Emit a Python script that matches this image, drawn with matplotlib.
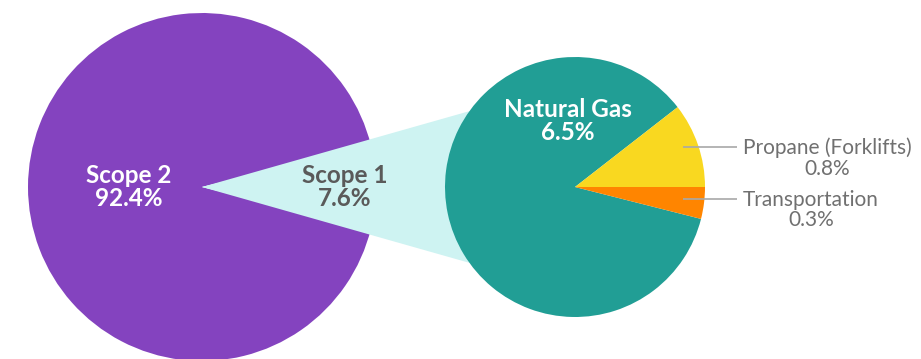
import numpy as np
import matplotlib
matplotlib.use("Agg")
import matplotlib.pyplot as plt
from matplotlib.patches import Polygon

# ---- data ----
main_labels = ["Scope 2", "Scope 1"]
main_values = [92.4, 7.6]
sub_labels = ["Natural Gas", "Propane (Forklifts)", "Transportation"]
sub_values = [6.5, 0.8, 0.3]

# ---- style ----
purple = "#8443BF"
cyan = "#CEF3F2"
teal = "#219E95"
yellow = "#F9D820"
orange = "#FF8500"
dark_text = "#5A5A5A"
gray_text = "#707070"
line_gray = "#A8A8A8"
FONT = ["Lato", "DejaVu Sans"]

W, H = 921, 359
fig = plt.figure(figsize=(W / 100, H / 100), dpi=100)
ax = fig.add_axes([0, 0, 1, 1])

# layout (pixel-like data coordinates)
c1, r1 = (202.0, 172.0), 174.0
c2, r2 = (575.0, 172.0), 130.0

# main pie: Scope 1 wedge centred on the right (0 deg)
start_main = 360 * main_values[1] / sum(main_values) / 2
ax.pie(main_values, colors=[purple, cyan], startangle=start_main,
       center=c1, radius=r1, counterclock=True,
       wedgeprops=dict(linewidth=0), frame=True)

# connector band from main pie centre to the sub pie
conn_ang = np.deg2rad(35.7)
p_top = (c2[0] - r2 * np.cos(conn_ang), c2[1] + r2 * np.sin(conn_ang))
p_bot = (c2[0] - r2 * np.cos(conn_ang), c2[1] - r2 * np.sin(conn_ang))
ax.add_patch(Polygon([c1, p_top, c2, p_bot], closed=True,
                     facecolor=cyan, edgecolor="none", zorder=2))

# sub pie
sub_total = sum(sub_values)
start_sub = -360 * sub_values[2] / sub_total
wedges, _ = ax.pie(sub_values, colors=[teal, yellow, orange],
                   startangle=start_sub, counterclock=False,
                   center=c2, radius=r2,
                   wedgeprops=dict(linewidth=0), frame=True)
for w in wedges:
    w.set_zorder(3)

# ---- labels ----
def pct(v):
    return f"{v:.1f}%"

BOLD = dict(ha="center", va="center", fontsize=17.5, fontweight="bold",
            family=FONT, linespacing=1.0, zorder=5)
ax.text(c1[0] - 0.42 * r1, c1[1], f"{main_labels[0]}\n{pct(main_values[0])}",
        color="white", **BOLD)
ax.text(c1[0] + 0.82 * r1, c1[1], f"{main_labels[1]}\n{pct(main_values[1])}",
        color=dark_text, **BOLD)
ax.text(c2[0] - 7, c2[1] + 0.51 * r2, f"{sub_labels[0]}\n{pct(sub_values[0])}",
        color="white", **BOLD)

# outside labels with leader lines
label_y = [H - 158, H - 210]
for lab, val, y in zip(sub_labels[1:], sub_values[1:], label_y):
    ax.plot([c2[0] + 0.83 * r2, c2[0] + 1.245 * r2], [y + 11, y + 11],
            color=line_gray, lw=1.2, zorder=6, solid_capstyle="butt")
    ax.text(743, y, f"{lab}\n{pct(val)}", ha="left", va="center",
            multialignment="center", color=gray_text, fontsize=15,
            fontweight="normal", family=FONT, linespacing=1.05, zorder=6)

ax.set_xlim(0, W)
ax.set_ylim(0, H)
ax.set_aspect("equal")
ax.axis("off")
fig.savefig("out.png", dpi=100)
